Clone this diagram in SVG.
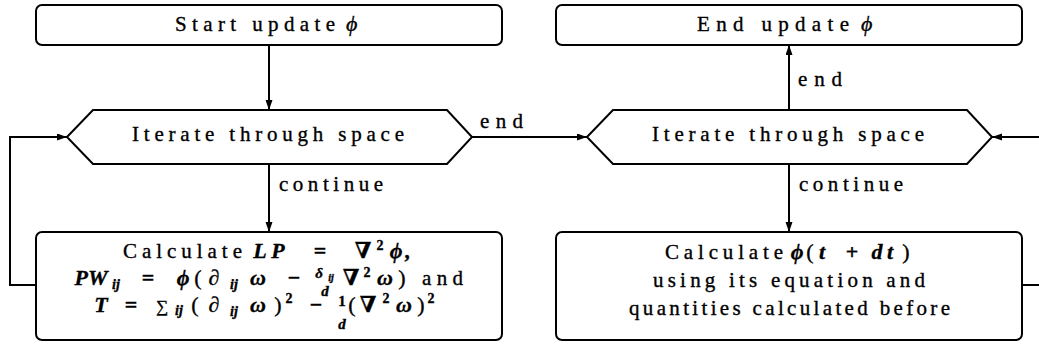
<svg xmlns="http://www.w3.org/2000/svg" width="1039" height="347" viewBox="0 0 1039 347" font-family="Liberation Serif, serif">
  <style>
    .box { fill: #fff; stroke: #000; stroke-width: 2; }
    .edge { fill: none; stroke: #000; stroke-width: 2; marker-end: url(#arrow); }
    text { font-family: "Liberation Serif", "DejaVu Serif", serif; font-size: 21px; fill: #000; stroke: #000; stroke-width: 0.35; }
    .eq { text-anchor: middle; font-size: 22px; }
    .m { font-style: italic; font-weight: bold; }
    .it { font-style: italic; }
    .b { font-weight: bold; }
    .sub { font-size: 14px; font-style: italic; font-weight: bold; }
    .sup { font-size: 14px; font-weight: bold; }
    .frac { font-size: 15px; font-style: italic; font-weight: bold; }
    .tiny { font-size: 10px; font-style: italic; font-weight: bold; }
  </style>
  <defs>
    <marker id="arrow" markerUnits="userSpaceOnUse" markerWidth="11" markerHeight="8" refX="10" refY="3.5" orient="auto">
      <path d="M0,0 L10,3.5 L0,7 z" fill="#000"/>
    </marker>
  </defs>

  <!-- flow connectors -->
  <g id="connectors">
    <path class="edge" d="M269,45 V110"/>
    <path class="edge" d="M269,164 V232"/>
    <path class="edge" d="M36,285 H10 V137 H67"/>
    <path class="edge" d="M472,137 H587"/>
    <path class="edge" d="M789,164 V232"/>
    <path class="edge" d="M1022,285 H1045 V137 H992"/>
    <path class="edge" d="M789,110 V45"/>
    <text x="279" y="191" textLength="104">continue</text>
    <text x="799" y="191" textLength="104">continue</text>
    <text x="480" y="128" textLength="43">end</text>
    <text x="798" y="86" textLength="44">end</text>
  </g>

  <!-- start terminal -->
  <g id="start">
    <rect class="box" x="36" y="5" width="466" height="40" rx="6"/>
    <text x="175" y="31" textLength="160">Start update</text>
    <text class="it" x="346" y="31" style="font-size:22px">ϕ</text>
  </g>

  <!-- end terminal -->
  <g id="end">
    <rect class="box" x="556" y="5" width="466" height="40" rx="6"/>
    <text x="697" y="31" textLength="152">End update</text>
    <text class="it" x="861" y="31" style="font-size:22px">ϕ</text>
  </g>

  <!-- loop over space, first pass -->
  <g id="iterate-left">
    <polygon class="box" points="67,137 93,110 447,110 472,137 447,164 93,164"/>
    <text x="132" y="141" textLength="272">Iterate through space</text>
  </g>

  <!-- loop over space, second pass -->
  <g id="iterate-right">
    <polygon class="box" points="587,137 613,110 967,110 992,137 967,164 613,164"/>
    <text x="652" y="141" textLength="272">Iterate through space</text>
  </g>

  <!-- intermediate quantities; math glyphs are placed one by one by their centres -->
  <g id="calc-left">
    <rect class="box" x="36" y="232" width="466" height="108" rx="6"/>
    <!-- LP = ∇²ϕ, -->
    <text x="123" y="258" textLength="119">Calculate</text>
    <text class="eq" y="258"><tspan class="m" x="260">L</tspan><tspan class="m" x="278">P</tspan><tspan class="b" x="320">=</tspan><tspan class="b" x="363">∇</tspan><tspan class="sup" x="380" y="250">2</tspan><tspan class="m" x="396" y="258">ϕ</tspan><tspan class="m" x="408">,</tspan></text>
    <!-- PW_ij = ϕ(∂_ij ω − δ_ij/d ∇²ω) and -->
    <text class="eq" y="285"><tspan class="m" x="91">PW</tspan><tspan class="sub" x="116" y="289">ij</tspan><tspan class="b" x="148" y="285">=</tspan><tspan class="m" x="183">ϕ</tspan><tspan x="198">(</tspan><tspan class="m" x="214">∂</tspan><tspan class="sub" x="234" y="289">ij</tspan><tspan class="m" x="258" y="285">ω</tspan><tspan class="b" x="294">−</tspan><tspan class="frac" x="319" y="278">δ</tspan><tspan class="tiny" x="331" y="281">ij</tspan><tspan class="frac" x="325" y="296">d</tspan><tspan class="b" x="351" y="285">∇</tspan><tspan class="sup" x="367" y="277">2</tspan><tspan class="m" x="385" y="285">ω</tspan><tspan x="402">)</tspan></text>
    <text x="422" y="285" textLength="41">and</text>
    <!-- T = Σ_ij(∂_ij ω)² − (1/d)(∇²ω)² -->
    <text class="eq" y="312"><tspan class="m" x="101">T</tspan><tspan class="b" x="131">=</tspan><tspan x="162" style="font-size:17px">∑</tspan><tspan class="sub" x="179" y="315">ij</tspan><tspan x="195" y="312">(</tspan><tspan class="m" x="214">∂</tspan><tspan class="sub" x="234" y="316">ij</tspan><tspan class="m" x="258" y="312">ω</tspan><tspan x="278">)</tspan><tspan class="sup" x="289" y="303">2</tspan><tspan class="b" x="316" y="312">−</tspan><tspan class="frac" x="342" y="306" style="font-style:normal">1</tspan><tspan class="frac" x="342" y="329">d</tspan><tspan x="352" y="312">(</tspan><tspan class="b" x="368">∇</tspan><tspan class="sup" x="386" y="303">2</tspan><tspan class="m" x="404" y="312">ω</tspan><tspan x="421">)</tspan><tspan class="sup" x="431" y="303">2</tspan></text>
  </g>

  <!-- time step update -->
  <g id="calc-right">
    <rect class="box" x="556" y="232" width="466" height="108" rx="6"/>
    <text x="665" y="259" textLength="118">Calculate</text>
    <text class="eq" y="259"><tspan class="m" x="797">ϕ</tspan><tspan x="810">(</tspan><tspan class="m" x="822">t</tspan><tspan class="b" x="852">+</tspan><tspan class="m" x="877">d</tspan><tspan class="m" x="890">t</tspan><tspan x="906">)</tspan></text>
    <text x="653" y="287" textLength="272">using its equation and</text>
    <text x="629" y="315" textLength="321">quantities calculated before</text>
  </g>
</svg>
